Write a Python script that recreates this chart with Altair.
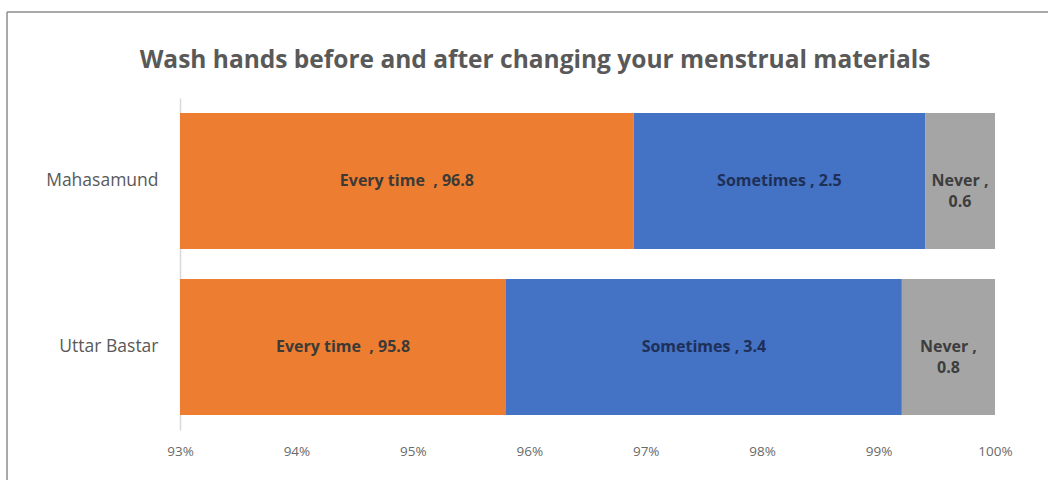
import altair as alt
import pandas as pd

regions = ["Mahasamund", "Uttar Bastar"]
every_time = [96.8, 95.8]
sometimes = [2.5, 3.4]
never = [0.6, 0.8]
categories = ["Every time", "Sometimes", "Never"]
label_sep = {"Every time": "\u00a0\u00a0, ", "Sometimes": " , ", "Never": " ,\n"}
colors = ["#ED7D31", "#4472C4", "#A5A5A5"]
text_colors = ["#3d3a36", "#1e2f58", "#3d3d3d"]
x_min = 0.93

rows = []
for i, r in enumerate(regions):
    vals = [every_time[i], sometimes[i], never[i]]
    total = sum(vals)
    cum = 0.0
    for c, v in zip(categories, vals):
        start = cum / total
        cum += v
        end = cum / total
        rows.append({
            "region": r, "category": c, "value": v,
            "start": start, "end": end,
            "mid": (max(start, x_min) + end) / 2,
            "label": f"{c}{label_sep[c]}{v}",
        })
df = pd.DataFrame(rows)

W, H = 815, 332
base = alt.Chart(df)

ycfg = alt.Y("region:N", sort=regions, title=None,
             scale=alt.Scale(paddingInner=0.18, paddingOuter=0.09),
             axis=alt.Axis(labelFontSize=17.5, labelColor="#595959", labelFont="Open Sans",
                           labelPadding=22, ticks=False, domainColor="#D9D9D9", domainWidth=1.5))

bars = base.mark_bar(clip=True).encode(
    x=alt.X("start:Q", title=None,
            scale=alt.Scale(domain=[x_min, 1.0], nice=False, zero=False),
            axis=alt.Axis(format=".0%", values=[0.93, 0.94, 0.95, 0.96, 0.97, 0.98, 0.99, 1.0],
                          labelFontSize=13.5, labelColor="#6a6a6a", labelFont="Open Sans",
                          labelFlush=False, labelPadding=14, ticks=False, domain=False, grid=False)),
    x2="end:Q",
    y=ycfg,
    color=alt.Color("category:N", sort=categories,
                    scale=alt.Scale(domain=categories, range=colors), legend=None),
)

texts = base.mark_text(fontSize=16, fontWeight="bold", font="Open Sans", lineBreak="\n",
                       lineHeight=21, baseline="middle").encode(
    x="mid:Q",
    y=alt.Y("region:N", sort=regions),
    text="label:N",
    color=alt.Color("category:N", scale=alt.Scale(domain=categories, range=text_colors), legend=None),
)

deco_df = pd.DataFrame({"t": ["Wash hands before and after changing your menstrual materials"]})
title = alt.Chart(deco_df).mark_text(fontSize=24.5, fontWeight="bold", font="Open Sans",
                                     color="#595959", align="center", baseline="middle").encode(
    x=alt.value(355), y=alt.value(-37), text="t:N")

border_top = alt.Chart(deco_df).mark_rule(color="#8c8c8c", strokeWidth=1.5).encode(
    x=alt.value(-173), x2=alt.value(W + 60), y=alt.value(-86))
border_left = alt.Chart(deco_df).mark_rule(color="#8c8c8c", strokeWidth=1.5).encode(
    x=alt.value(-173), y=alt.value(-86), y2=alt.value(H + 60))

chart = alt.layer(bars, texts, title, border_top, border_left).resolve_scale(
    color="independent"
).properties(
    width=W, height=H,
    autosize=alt.AutoSizeParams(type="none"),
    padding={"left": 180, "top": 98, "right": 53, "bottom": 50},
    background="white",
).configure_view(stroke=None)

chart.save("out.html", embed_options={"renderer": "svg", "actions": False})
